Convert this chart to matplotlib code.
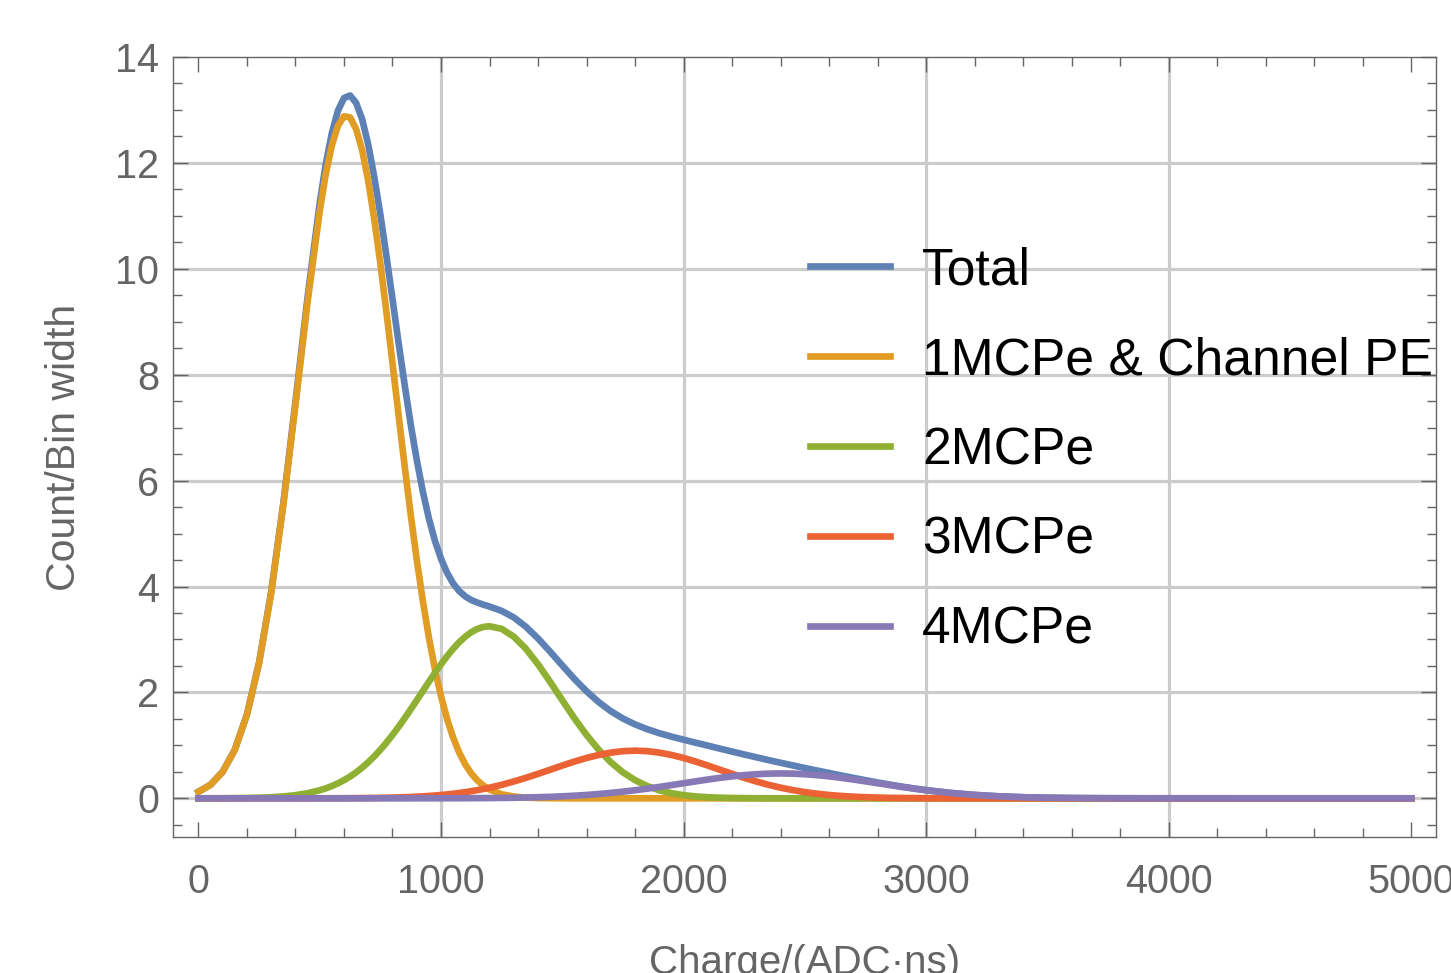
import numpy as np
import matplotlib
matplotlib.use('Agg')
import matplotlib.pyplot as plt
from matplotlib.ticker import MultipleLocator

plt.rcParams['font.family'] = ['Liberation Sans', 'DejaVu Sans']

# ----- Values ---------------------------------------------------------------------------
# finer steps where the curves bend quickly
charge = [0, 50, 100, 150, 200, 250, 300, 350, 400, 450,
          500, 525, 550, 575, 600, 625, 650, 675, 700, 725, 750, 775, 800, 825, 850, 875,
          900, 925, 950, 975, 1000, 1025, 1050, 1075, 1100, 1125, 1150, 1175, 1200,
          1250, 1300, 1350, 1400, 1450, 1500, 1550, 1600, 1650, 1700, 1750, 1800, 1850,
          1900, 1950, 2000, 2050, 2100, 2150, 2200, 2250, 2300, 2350, 2400, 2450, 2500,
          2550, 2600, 2650, 2700, 2750, 2800, 2850, 2900, 2950, 3000,
          3100, 3200, 3300, 3400, 3500, 3600, 3700, 3800, 3900, 4000, 4500, 5000]

total = [0.123, 0.257, 0.502, 0.919, 1.584, 2.565, 3.901, 5.576, 7.490, 9.467,
         11.243, 11.979, 12.563, 12.985, 13.225, 13.274, 13.134, 12.825, 12.347, 11.730,
         11.026, 10.242, 9.430, 8.606, 7.812, 7.066, 6.393, 5.794, 5.284, 4.863, 4.525,
         4.258, 4.059, 3.915, 3.813, 3.744, 3.696, 3.657, 3.622,
         3.540, 3.416, 3.240, 3.019, 2.769, 2.509, 2.254, 2.022, 1.817, 1.646, 1.507,
         1.396, 1.306, 1.230, 1.165, 1.107, 1.050, 0.995, 0.938, 0.883, 0.828, 0.775,
         0.722, 0.671, 0.622, 0.572, 0.525, 0.478, 0.431, 0.386, 0.342, 0.299, 0.259,
         0.221, 0.186, 0.155,
         0.1025, 0.064, 0.0375, 0.0206, 0.0107, 0.0052, 0.0024, 0.0010, 0.0004, 0.0001,
         0, 0]

mcpe1 = [0.123, 0.256, 0.500, 0.916, 1.578, 2.553, 3.880, 5.540, 7.430, 9.370,
         11.09, 11.79, 12.33, 12.70, 12.88, 12.86, 12.64, 12.24, 11.66, 10.93, 10.10,
         9.18, 8.22, 7.24, 6.28, 5.36, 4.51, 3.73, 3.04, 2.44, 1.93, 1.499, 1.147, 0.864,
         0.641, 0.468, 0.337, 0.239, 0.166,
         0.077, 0.034, 0.014, 0.005, 0.002, 0.001, 0, 0, 0, 0, 0, 0, 0, 0, 0, 0, 0, 0,
         0, 0, 0, 0, 0, 0, 0, 0, 0, 0, 0, 0, 0, 0, 0, 0, 0, 0,
         0, 0, 0, 0, 0, 0, 0, 0, 0, 0, 0, 0]

mcpe2 = [0.0004, 0.0008, 0.0017, 0.0033, 0.0063, 0.0115, 0.0206, 0.0355, 0.0595, 0.0966,
         0.152, 0.188, 0.232, 0.283, 0.343, 0.411, 0.490, 0.580, 0.681, 0.793, 0.917,
         1.051, 1.196, 1.349, 1.511, 1.680, 1.852, 2.026, 2.199, 2.369, 2.531, 2.684,
         2.824, 2.948, 3.053, 3.138, 3.200, 3.237, 3.250,
         3.200, 3.053, 2.824, 2.531, 2.199, 1.852, 1.511, 1.196, 0.917, 0.681, 0.490,
         0.343, 0.232, 0.152, 0.0966, 0.0595, 0.0355, 0.0206, 0.0115, 0.0063, 0.0033,
         0.0017, 0.0008, 0.0004, 0.0002, 0.0001, 0, 0, 0, 0, 0, 0, 0, 0, 0, 0,
         0, 0, 0, 0, 0, 0, 0, 0, 0, 0, 0, 0]

mcpe3 = [0, 0, 0, 0, 0, 0, 0.0001, 0.0002, 0.0003, 0.0005,
         0.0008, 0.0010, 0.0013, 0.0017, 0.0022, 0.0028, 0.0036, 0.0046, 0.0058, 0.0073,
         0.0091, 0.0113, 0.0140, 0.0171, 0.0210, 0.0255, 0.0308, 0.0371, 0.0444, 0.0528,
         0.0626, 0.0736, 0.0864, 0.1007, 0.117, 0.1348, 0.155, 0.1768, 0.201,
         0.255, 0.318, 0.387, 0.462, 0.540, 0.619, 0.694, 0.762, 0.819, 0.863, 0.891,
         0.900, 0.891, 0.863, 0.819, 0.762, 0.694, 0.619, 0.540, 0.462, 0.387, 0.318,
         0.255, 0.201, 0.155, 0.117, 0.0864, 0.0626, 0.0444, 0.0308, 0.0210, 0.0140,
         0.0091, 0.0058, 0.0036, 0.0022,
         0.0008, 0.0003, 0.0001, 0, 0, 0, 0, 0, 0, 0, 0, 0]

mcpe4 = [0, 0, 0, 0, 0, 0, 0, 0, 0, 0.0001,
         0.0001, 0.0001, 0.0001, 0.0001, 0.0001, 0.0001, 0.0001, 0.0001, 0.0001, 0.0001,
         0.0001, 0.0001, 0.0002, 0.0002, 0.0002, 0.0003, 0.0004, 0.0005, 0.0007, 0.0008,
         0.0010, 0.0013, 0.0016, 0.0020, 0.0024, 0.0030, 0.0036, 0.0044, 0.0052,
         0.0075, 0.0107, 0.0150, 0.0206, 0.0280, 0.0374, 0.0492, 0.0636, 0.0810, 0.1017,
         0.1255, 0.1526, 0.1826, 0.215, 0.2496, 0.285, 0.3205, 0.355, 0.3866, 0.415,
         0.4381, 0.455, 0.4663, 0.470, 0.4663, 0.455, 0.4381, 0.415, 0.3866, 0.355,
         0.3205, 0.285, 0.2496, 0.215, 0.1826, 0.1526,
         0.1017, 0.0636, 0.0374, 0.0206, 0.0107, 0.0052, 0.0024, 0.0010, 0.0004, 0.0001,
         0, 0]

labels = ['Total', '1MCPe & Channel PE', '2MCPe', '3MCPe', '4MCPe']
colors = ['#5E81B5', '#E19C24', '#8FB032', '#EB6235', '#8778B6']

x_grid = [1000, 2000, 3000, 4000]
y_grid = [0, 2, 4, 6, 8, 10, 12]

# ----- Figure -----------------------------------------------------------------------------
fig = plt.figure(figsize=(14.51, 9.73), dpi=100)
ax = fig.add_axes([0.1192, 0.1398, 0.8705, 0.8016])

grey = '#656565'
for xg in x_grid:
    ax.axvline(xg, color='#cccccc', linewidth=2.3, zorder=0)
for yg in y_grid:
    ax.axhline(yg, color='#cccccc', linewidth=2.3, zorder=0)

for series, lab, col in zip([total, mcpe1, mcpe2, mcpe3, mcpe4], labels, colors):
    ax.plot(charge, series, color=col, linewidth=4.8, label=lab, solid_joinstyle='round')

ax.set_xlim(-105, 5102)
ax.set_ylim(-0.73, 14.0)

ax.xaxis.set_major_locator(MultipleLocator(1000))
ax.xaxis.set_minor_locator(MultipleLocator(200))
ax.yaxis.set_major_locator(MultipleLocator(2))
ax.yaxis.set_minor_locator(MultipleLocator(0.5))

for sp in ax.spines.values():
    sp.set_color(grey)
    sp.set_linewidth(1.0)

ax.tick_params(which='both', direction='in', top=True, right=True, color=grey, width=1.0)
ax.tick_params(which='major', length=10.8, labelsize=28.5, labelcolor=grey)
ax.tick_params(which='minor', length=6.5)
ax.tick_params(axis='x', which='major', pad=19)
ax.tick_params(axis='y', which='major', pad=10)

ax.set_xlabel('Charge/(ADC\u00b7ns)', fontsize=29, color=grey)
ax.set_ylabel('Count/Bin width', fontsize=29.5, color=grey)
ax.xaxis.set_label_coords(0.5, -0.137)
ax.yaxis.set_label_coords(-0.0713, 0.5)

leg = ax.legend(loc='upper left', bbox_to_anchor=(0.5045, 0.757), frameon=False,
                fontsize=37.2, handlelength=1.55, handletextpad=0.62, labelspacing=0.79,
                borderpad=0, borderaxespad=0)

fig.savefig('out.png', dpi=100)
